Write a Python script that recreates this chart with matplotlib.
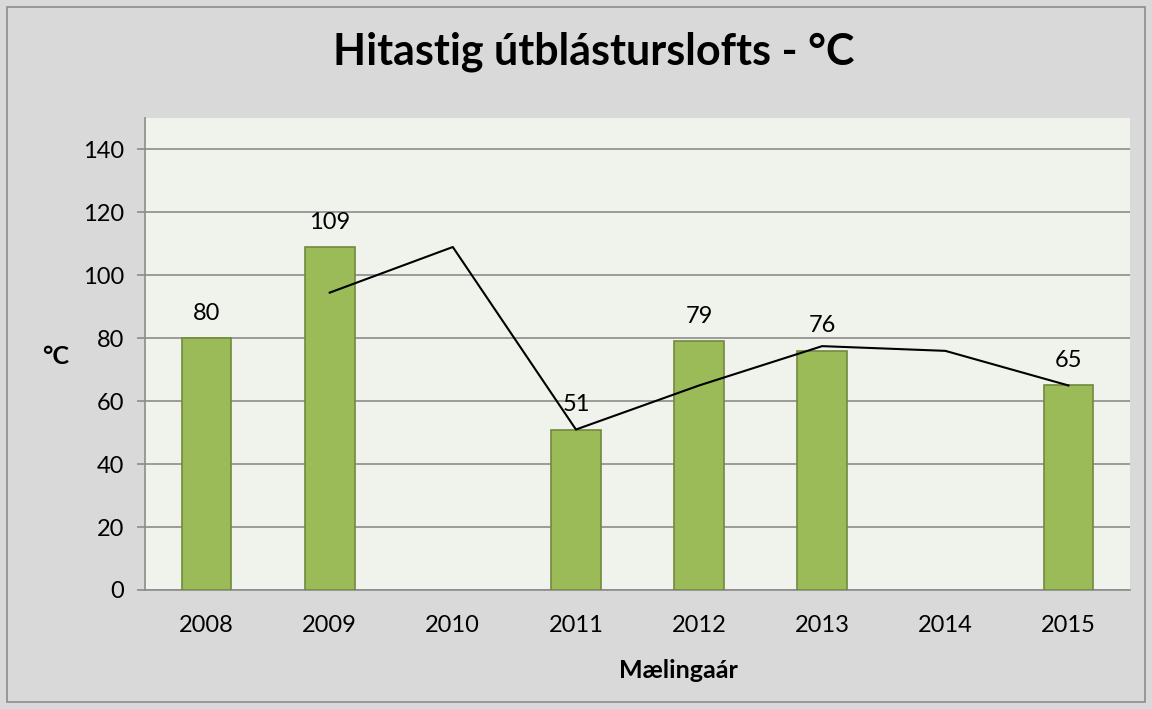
import matplotlib
matplotlib.use("Agg")
import matplotlib.pyplot as plt
import numpy as np
from matplotlib.patches import Rectangle

years = ["2008", "2009", "2010", "2011", "2012", "2013", "2014", "2015"]
temps = [80, 109, None, 51, 79, 76, None, 65]
# 2-period moving-average trendline as drawn (starts at 2009)
trend_years = ["2009", "2010", "2011", "2012", "2013", "2014", "2015"]
trend_vals = [94.5, 109, 51, 65, 77.5, 76, 65]
yticks = [0, 20, 40, 60, 80, 100, 120, 140]

plt.rcParams['font.family'] = ['Lato', 'DejaVu Sans']

fig = plt.figure(figsize=(11.52, 7.09), dpi=100)
fig.patch.set_facecolor('#D9D9D9')
fig.patches.append(Rectangle((7/1152, 7/709), 1 - 14/1152, 1 - 14/709, transform=fig.transFigure,
                             fill=False, edgecolor='#8C8C8C', linewidth=1.2))

ax = fig.add_axes([145/1152, 1 - 590/709, (1130-145)/1152, (590-118)/709])
ax.set_facecolor('#F0F3EB')

x = np.arange(len(years))
for i, v in enumerate(temps):
    if v is None:
        continue
    ax.bar(i, v, width=0.405, color='#9BBB59', edgecolor='#71893F', linewidth=1.2, zorder=3)
    ax.text(i, v + 4.6, str(v), ha='center', va='bottom', fontsize=17, color='black', zorder=5)

tx = [years.index(y) for y in trend_years]
ax.plot(tx, trend_vals, color='black', linewidth=1.5, zorder=4)

ax.set_xlim(-0.5, len(years) - 0.5)
ax.set_ylim(0, 150)
ax.set_yticks(yticks)
ax.set_yticklabels([str(t) for t in yticks], fontsize=17)
ax.set_xticks(x)
ax.set_xticklabels(years, fontsize=17)
ax.grid(axis='y', color='#8C8C8C', linewidth=1.2, zorder=1)
ax.set_axisbelow(True)
for s in ['top', 'right']:
    ax.spines[s].set_visible(False)
for s in ['left', 'bottom']:
    ax.spines[s].set_color('#8C8C8C')
    ax.spines[s].set_linewidth(1.2)
ax.tick_params(axis='y', length=6, color='#8C8C8C', width=1.2, pad=9)
ax.tick_params(axis='x', length=0, pad=18)

fig.text(594/1152, 1 - 52/709, "Hitastig útblásturslofts - °C", ha='center', va='center',
         fontsize=31, fontweight='bold')
fig.text(56/1152, 1 - 357/709, "°C", ha='center', va='center', fontsize=18, fontweight='bold')
fig.text(678/1152, 1 - 670/709, "Mælingaár", ha='center', va='center', fontsize=18, fontweight='bold')

fig.savefig("out.png", dpi=100, facecolor=fig.get_facecolor())
